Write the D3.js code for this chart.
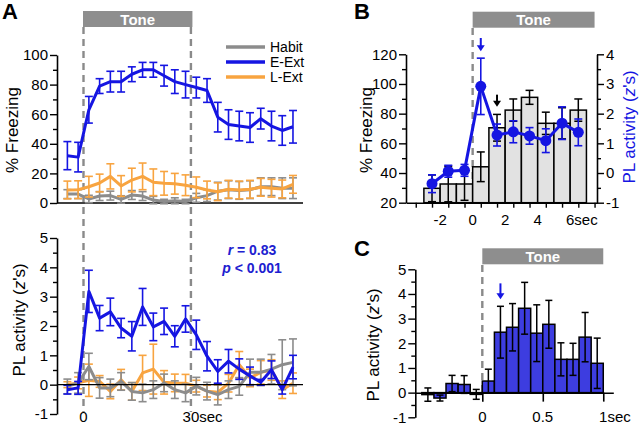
<!DOCTYPE html>
<html><head><meta charset="utf-8">
<script src="https://cdn.jsdelivr.net/npm/d3@7"></script>
<style>
body{margin:0;background:#fff}
svg{display:block}
text{font-family:Arial,"Liberation Sans",sans-serif;fill:#000}
</style>
</head><body>
<svg id="c" width="640" height="426"></svg>
<script>
// ---------------- DATA ----------------
// Panel A: 3-s bins (bin centres, sec relative to tone onset)
const timesA = [-4.5,-1.5,1.5,4.5,7.5,10.5,13.5,16.5,19.5,22.5,25.5,28.5,31.5,34.5,37.5,40.5,43.5,46.5,49.5,52.5,55.5,58.5];
const seriesNames = ["Habit","E-Ext","L-Ext"];
// % Freezing
const freezeHabit    = [6,6,2.7,4.7,5,2.4,5.4,4.7,2,1,1.5,1,3.5,5,8,9,8.5,9,11,11,10,10];
const freezeHabitErr = [3,3,2.5,3,3,2.5,3,3,2.5,1.5,2,1.5,3,4,6,6,6,6,6,6,7,7];
const freezeEExt     = [32,31,63,79,82,82,87,90,90,86,82,80,78,76,58,53,52,51,57,52,49,51.5];
const freezeEExtErr  = [9.5,10,9,5,7,7,5,5,5,7,8,9,7,8,10,10,10,10,7,10,10,11];
const freezeLExt     = [8.8,9,11,13.5,18,11.5,15.5,18,14,13.3,13,12,10.6,8.8,7.6,9.3,8.8,9.3,10.6,10,9.5,12.6];
const freezeLExtErr  = [6,6,7,6,8.5,7,8,9,9,8,7,7,7,6,6,6,6,6,6,6,6,6];
// PL activity (z's)
const plHabit    = [-0.06,0.06,0.62,-0.11,-0.11,0.11,-0.23,-0.28,-0.17,0.06,-0.17,-0.28,-0.05,-0.22,-0.34,-0.17,-0.06,0.42,0.42,0.53,0.68,0.76];
const plHabitErr = [0.25,0.35,0.45,0.35,0.3,0.3,0.3,0.3,0.3,0.3,0.3,0.3,0.3,0.3,0.35,0.3,0.3,0.45,0.45,0.5,0.85,0.8];
const plEExt     = [-0.17,-0.11,3.18,2.27,2.48,1.93,1.65,2.65,1.97,2.16,1.65,2.24,1.7,0.97,0.45,0.8,0.53,0.3,0.08,0.51,-0.17,0.6];
const plEExtErr  = [0.15,0.22,0.72,0.43,0.47,0.33,0.5,0.63,0.47,0.45,0.36,0.45,0.5,0.5,0.4,0.4,0.35,0.3,0.1,0.3,0.15,0.4];
const plLExt     = [0,0.06,0.15,0.11,-0.23,0.17,-0.23,0.4,0.53,0.08,0.06,0.05,-0.05,-0.22,-0.26,0.05,0.68,0.23,0.42,0.5,-0.17,0.05];
const plLExtErr  = [0.1,0.2,0.55,0.2,0.25,0.35,0.3,0.6,0.85,0.4,0.3,0.3,0.2,0.2,0.25,0.3,0.45,0.3,0.4,0.35,0.3,0.35];
const toneA = [0,30];
const statsLines = ["r = 0.83","p < 0.001"];

// Panel B: 1-s bins
const binsB = [-2.5,-1.5,-0.5,0.5,1.5,2.5,3.5,4.5,5.5,6.5];
const freezeB    = [29.7,32.6,32.6,44.2,70.5,82.4,91,73.5,73.5,82.4];
const freezeBErr = [9,12,11,10,9,7.5,4.7,7.5,10.5,7.5];
const plB        = [-0.36,0.06,0.09,2.92,1.28,1.39,1.25,1.09,1.68,1.37];
const plBErr     = [0.3,0.2,0.2,0.95,0.37,0.37,0.28,0.4,0.55,0.45];
const xTicksB = [-3.5,-2.5,-1.5,-0.5,0.5,1.5,2.5,3.5,4.5,5.5,6.5,7.5];
const xLabelsB = [-2,0,2,4,6];
const toneB = [0,7.5];
const arrowsB = [{t:0.5, from:4.55, to:4.1, color:"blue"},{t:1.5, from:2.64, to:2.23, color:"black"}];

// Panel C: 100-ms bins
const binsC = [-0.45,-0.35,-0.25,-0.15,-0.05,0.05,0.15,0.25,0.35,0.45,0.55,0.65,0.75,0.85,0.95];
const plC    = [-0.08,-0.22,0.37,0.33,-0.07,0.47,2.45,2.65,3.42,2.41,2.77,1.35,1.35,2.25,1.19];
const plCErr = [0.27,0.12,0.33,0.36,0.2,0.48,1.05,0.96,1.05,1.15,0.97,0.67,0.65,1.0,1.02];
const xLabelsC = [0,0.5,1];
const toneC = [0,1];
const arrowC = {t:0.15, from:4.43, to:3.79};

// ---------------- STYLE ----------------
const BLUE="#1515e2", GRAY="#8c8c8c", ORANGE="#f8a440", TONE="#8e8e8e", BARB="#e2e2e2", BARC="#3d3de0";
const svg = d3.select("#c");

function yAxis(x, scale, majors, minors, orient, labelColor){
  const mk = orient==="left" ? d3.axisLeft : d3.axisRight;
  const g = svg.append("g").attr("transform",`translate(${x},0)`);
  g.call(mk(scale).tickValues(majors).tickSize(7).tickSizeOuter(0).tickPadding(2).tickFormat(d=>String(d)));
  const g2 = svg.append("g").attr("transform",`translate(${x},0)`);
  g2.call(mk(scale).tickValues(minors).tickSize(4).tickSizeOuter(0).tickFormat(""));
  g2.select(".domain").remove();
  [g,g2].forEach(gg=>{
    gg.select(".domain").attr("stroke","#000").attr("stroke-width",1.6);
    gg.selectAll(".tick line").attr("stroke","#000").attr("stroke-width",1.4);
  });
  g.selectAll(".tick text").attr("font-size",15).attr("fill",labelColor||"#000").style("font-family",'Arial,"Liberation Sans",sans-serif');
  return g;
}
function hline(xs, y, color, w){
  svg.append("line").attr("x1",xs[0]).attr("x2",xs[1]).attr("y1",y).attr("y2",y)
    .attr("stroke",color).attr("stroke-width",w);
}
function dashed(x, y1, y2){
  svg.append("line").attr("x1",x).attr("x2",x).attr("y1",y1).attr("y2",y2)
    .attr("stroke","#8a8a8a").attr("stroke-width",2.4).attr("stroke-dasharray","7,5");
}
function errBars(xs, means, errs, xs_, ys_, color, cap, sw){
  const g = svg.append("g").attr("stroke",color).attr("stroke-width",sw).attr("fill","none");
  xs.forEach((t,i)=>{
    const x = xs_(t), y1 = ys_(means[i]+errs[i]), y2 = ys_(means[i]-errs[i]);
    g.append("line").attr("x1",x).attr("x2",x).attr("y1",y1).attr("y2",y2);
    g.append("line").attr("x1",x-cap/2).attr("x2",x+cap/2).attr("y1",y1).attr("y2",y1);
    g.append("line").attr("x1",x-cap/2).attr("x2",x+cap/2).attr("y1",y2).attr("y2",y2);
  });
}
function seriesLine(xs, means, xs_, ys_, color, w){
  const line = d3.line().x((d,i)=>xs_(xs[i])).y(d=>ys_(d));
  svg.append("path").datum(means).attr("d",line).attr("fill","none")
    .attr("stroke",color).attr("stroke-width",w).attr("stroke-linejoin","round");
}
function toneBar(x0, x1, y, h){
  svg.append("rect").attr("x",x0).attr("y",y).attr("width",x1-x0).attr("height",h).attr("fill",TONE);
  svg.append("text").attr("x",(x0+x1)/2).attr("y",y+h/2+5.5).attr("text-anchor","middle")
    .attr("font-size",15).attr("font-weight","bold").style("fill","#fff").text("Tone");
}
function numLabel(x, y, num, suffix){
  const t = svg.append("text").attr("y",y).attr("font-size",15).text(String(num));
  const w = t.node().getComputedTextLength();
  t.attr("x", x - w/2);
  if (suffix) t.append("tspan").text(suffix);
}
function yTitle(x, y, color){
  const t = svg.append("text").attr("transform",`translate(${x},${y}) rotate(-90)`)
    .attr("text-anchor","middle").attr("font-size",17).style("fill",color||"#000");
  return t;
}
function plTitle(x,y,color){
  const t = yTitle(x,y,color);
  t.append("tspan").text("PL activity (");
  t.append("tspan").attr("font-style","italic").text("z");
  t.append("tspan").text("'s)");
}
function arrow(x, yFrom, yTo, color){
  svg.append("line").attr("x1",x).attr("x2",x).attr("y1",yFrom).attr("y2",yTo-4)
    .attr("stroke",color).attr("stroke-width",2);
  svg.append("path").attr("d",`M${x-4},${yTo-6} L${x+4},${yTo-6} L${x},${yTo} Z`).attr("fill",color);
}
function panelLetter(x,y,s){
  svg.append("text").attr("x",x).attr("y",y).attr("font-size",22).attr("font-weight","bold").text(s);
}

// ---------------- PANEL A ----------------
const xA = d3.scaleLinear().domain([-7.4,61.3]).range([57,303]);
const yA1 = d3.scaleLinear().domain([0,100]).range([203,55]);
const yA2 = d3.scaleLinear().domain([-1,5]).range([414,238]);

panelLetter(2,19,"A");
toneBar(xA(toneA[0])-0.5, xA(toneA[1])+1.5, 11, 16);
toneA.forEach(t=>dashed(xA(t), 27, 412));

yAxis(57, yA1, [0,20,40,60,80,100], [10,30,50,70,90], "left");
hline(xA.range(), yA1(0), "#000", 1.6);
yTitle(18, 130).text("% Freezing");

const topSets = [
  [freezeHabit,freezeHabitErr,GRAY],
  [freezeLExt,freezeLExtErr,ORANGE],
  [freezeEExt,freezeEExtErr,BLUE]];
topSets.forEach(([m,e,c])=>{ errBars(timesA,m,e,xA,yA1,c,8,1.6); seriesLine(timesA,m,xA,yA1,c,3); });

// legend
const legColors = [GRAY,BLUE,ORANGE];
seriesNames.forEach((n,i)=>{
  const y = 47 + i*15;
  svg.append("line").attr("x1",226).attr("x2",265).attr("y1",y).attr("y2",y).attr("stroke",legColors[i]).attr("stroke-width",3.5);
  svg.append("text").attr("x",270).attr("y",y+5).attr("font-size",14).text(n);
});

// bottom
yAxis(57, yA2, [-1,0,1,2,3,4,5], [-0.5,0.5,1.5,2.5,3.5,4.5], "left");
plTitle(25, 320);
const botSets = [
  [plLExt,plLExtErr,ORANGE],
  [plHabit,plHabitErr,GRAY],
  [plEExt,plEExtErr,BLUE]];
botSets.forEach(([m,e,c])=>{ errBars(timesA,m,e,xA,yA2,c,8,1.6); seriesLine(timesA,m,xA,yA2,c,3); });
hline(xA.range(), yA2(0), "#000", 1.4);
numLabel(xA(0), 422, 0);
numLabel(xA(30), 422, 30, "sec");
statsLines.forEach((s,i)=>{
  const t = svg.append("text").attr("x",252).attr("y",255+i*18).attr("text-anchor","middle")
    .attr("font-size",14).attr("font-weight","bold").style("fill","#2020d0");
  const parts = s.split(" ");
  t.append("tspan").attr("font-style","italic").text(parts[0]);
  t.append("tspan").text(" "+parts.slice(1).join(" "));
});

// ---------------- PANEL B ----------------
const xB = d3.scaleLinear().domain([-4.1,7.65]).range([406,597]);
const yBL = d3.scaleLinear().domain([20,120]).range([202.7,54.3]);
const yBR = d3.scaleLinear().domain([-1,4]).range([202.7,54.3]);
panelLetter(354,19,"B");
toneBar(xB(toneB[0]), xB(toneB[1]), 11.7, 16);
dashed(xB(0), 28, 202);

// bars
svg.append("g").selectAll("rect").data(freezeB).join("rect")
  .attr("x",(d,i)=>xB(binsB[i]-0.5)).attr("width",(d,i)=>xB(binsB[i]+0.5)-xB(binsB[i]-0.5))
  .attr("y",d=>yBL(d)).attr("height",d=>yBL(20)-yBL(d))
  .attr("fill",BARB).attr("stroke","#000").attr("stroke-width",1.5);
errBars(binsB, freezeB, freezeBErr, xB, yBL, "#000", 8, 1.5);

yAxis(406, yBL, [20,40,60,80,100,120], [30,50,70,90,110], "left");
yAxis(597, yBR, [-1,0,1,2,3,4], [-0.5,0.5,1.5,2.5,3.5], "right");
// x axis
const gxB = svg.append("g").attr("transform",`translate(0,${yBL(20)})`)
  .call(d3.axisBottom(xB).tickValues(xTicksB).tickSize(5).tickSizeOuter(0).tickFormat(""));
gxB.select(".domain").attr("stroke","#000").attr("stroke-width",1.6);
gxB.selectAll(".tick line").attr("stroke","#000").attr("stroke-width",1.4);
xLabelsB.forEach(v=>numLabel(xB(v), 225, v, v===6?"sec":null));

errBars(binsB, plB, plBErr, xB, yBR, BLUE, 8, 1.6);
seriesLine(binsB, plB, xB, yBR, BLUE, 3);
svg.append("g").selectAll("circle").data(plB).join("circle")
  .attr("cx",(d,i)=>xB(binsB[i])).attr("cy",d=>yBR(d)).attr("r",5.5).attr("fill",BLUE);
arrowsB.forEach(a=>arrow(xB(a.t), yBR(a.from), yBR(a.to), a.color==="blue"?BLUE:"#000"));

yTitle(372, 130).text("% Freezing");
plTitle(635, 127, BLUE);

// ---------------- PANEL C ----------------
const xC = d3.scaleLinear().domain([-0.554,1.083]).range([415.3,613.3]);
const yC = d3.scaleLinear().domain([-1,5]).range([417.3,269.3]);
panelLetter(354,256,"C");
toneBar(xC(toneC[0]), xC(toneC[1]), 248.3, 16);
dashed(xC(0), 265, 392);

svg.append("g").selectAll("rect").data(plC).join("rect")
  .attr("x",(d,i)=>xC(binsC[i]-0.05)).attr("width",(d,i)=>xC(binsC[i]+0.05)-xC(binsC[i]-0.05))
  .attr("y",d=>yC(Math.max(0,d))).attr("height",d=>Math.abs(yC(d)-yC(0)))
  .attr("fill",BARC).attr("stroke","#000").attr("stroke-width",1.5);
errBars(binsC, plC, plCErr, xC, yC, "#000", 7, 1.5);

yAxis(415.3, yC, [-1,0,1,2,3,4,5], [-0.5,0.5,1.5,2.5,3.5,4.5], "left");
const gxC = svg.append("g").attr("transform",`translate(0,${yC(0)})`)
  .call(d3.axisBottom(xC).tickValues(xLabelsC).tickSize(9).tickSizeOuter(0).tickFormat(""));
gxC.select(".domain").attr("stroke","#000").attr("stroke-width",1.5);
gxC.selectAll(".tick line").attr("stroke","#000").attr("stroke-width",1.6);
xLabelsC.forEach(v=>numLabel(xC(v), 422, v, v===1?"sec":null));
arrow(xC(arrowC.t), yC(arrowC.from), yC(arrowC.to), BLUE);
plTitle(379, 345);
</script>
</body></html>
